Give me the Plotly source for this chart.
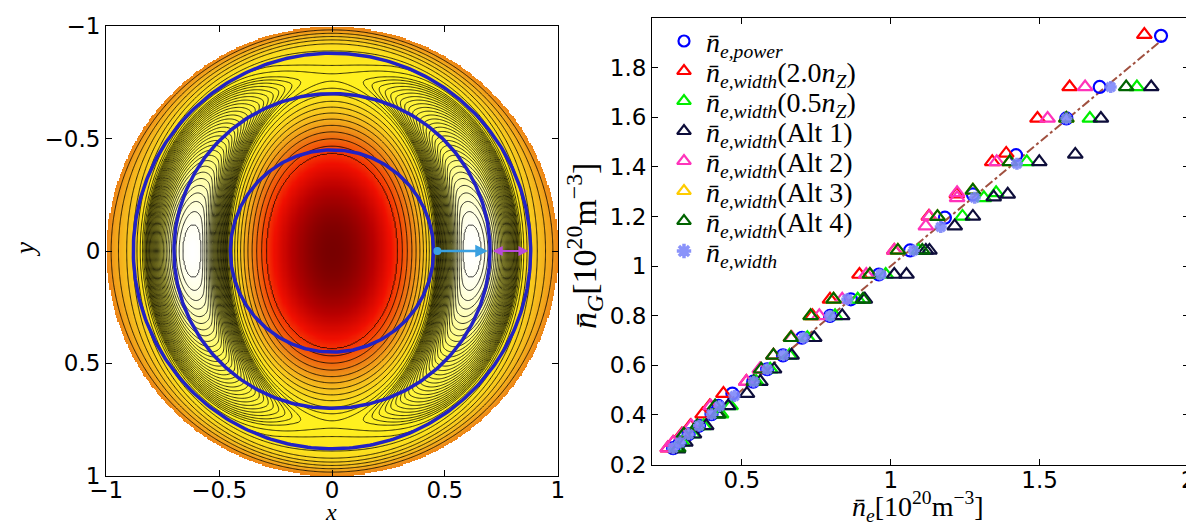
import numpy as np
import plotly.graph_objects as go

# ---------------- right panel data ----------------
power_x = [1.908, 1.702, 1.590, 1.421, 1.276, 1.182, 1.065, 0.960, 0.866, 0.796, 0.702, 0.638, 0.585, 0.538, 0.468, 0.421, 0.398, 0.356, 0.321, 0.292, 0.269]
power_y = [1.928, 1.722, 1.595, 1.447, 1.289, 1.195, 1.063, 0.966, 0.866, 0.799, 0.711, 0.640, 0.584, 0.534, 0.486, 0.436, 0.403, 0.356, 0.322, 0.289, 0.266]

red_x = [1.852, 1.601, 1.493, 1.388, 1.341, 1.222, 1.128, 1.012, 0.895, 0.796, 0.737, 0.665, 0.606, 0.562, 0.515, 0.438, 0.392, 0.368, 0.327, 0.298, 0.269, 0.251]
red_y = [1.933, 1.722, 1.595, 1.454, 1.420, 1.290, 1.200, 1.063, 0.966, 0.866, 0.799, 0.711, 0.640, 0.584, 0.534, 0.486, 0.436, 0.403, 0.356, 0.322, 0.289, 0.266]

green_x = [1.827, 1.669, 1.457, 1.313, 1.354, 1.241, 1.094, 0.983, 0.889, 0.813, 0.720, 0.660, 0.595, 0.548, 0.462, 0.430, 0.372, 0.335, 0.300, 0.278]
green_y = [1.722, 1.595, 1.420, 1.275, 1.295, 1.200, 1.063, 0.966, 0.866, 0.799, 0.711, 0.640, 0.584, 0.534, 0.436, 0.403, 0.356, 0.322, 0.289, 0.266]

alt1_x = [1.875, 1.706, 1.620, 1.499, 1.346, 1.393, 1.276, 1.215, 1.118, 1.130, 1.012, 1.053, 0.913, 0.837, 0.743, 0.667, 0.608, 0.562, 0.517, 0.454, 0.418, 0.380, 0.339, 0.310, 0.285]
alt1_y = [1.722, 1.595, 1.450, 1.420, 1.278, 1.289, 1.200, 1.161, 1.063, 1.063, 0.966, 0.966, 0.866, 0.799, 0.711, 0.640, 0.584, 0.534, 0.486, 0.436, 0.403, 0.356, 0.322, 0.289, 0.262]

alt2_x = [1.653, 1.527, 1.356, 1.223, 1.223, 1.130, 1.118, 1.012, 0.918, 0.837, 0.760, 0.668, 0.560, 0.515, 0.395, 0.330, 0.300, 0.269, 0.251]
alt2_y = [1.722, 1.595, 1.420, 1.295, 1.275, 1.200, 1.161, 1.063, 0.966, 0.866, 0.799, 0.711, 0.584, 0.534, 0.436, 0.356, 0.322, 0.289, 0.266]

alt3_x = [1.590, 1.400, 1.276, 1.157, 1.024, 0.930, 0.808, 0.731, 0.665]
alt3_y = [1.595, 1.420, 1.305, 1.199, 1.063, 0.966, 0.866, 0.799, 0.711]

alt4_x = [1.791, 1.590, 1.400, 1.276, 1.157, 1.024, 1.106, 0.930, 0.808, 0.907, 0.731, 0.665, 0.606, 0.565, 0.540, 0.410, 0.421, 0.350, 0.305, 0.286]
alt4_y = [1.722, 1.595, 1.420, 1.305, 1.199, 1.063, 1.063, 0.966, 0.866, 0.866, 0.799, 0.711, 0.640, 0.584, 0.534, 0.436, 0.403, 0.356, 0.322, 0.266]

width_x = [1.739, 1.590, 1.424, 1.282, 1.168, 1.077, 0.966, 0.854, 0.796, 0.708, 0.640, 0.585, 0.540, 0.475, 0.425, 0.398, 0.356, 0.321, 0.292, 0.269]
width_y = [1.722, 1.595, 1.412, 1.275, 1.157, 1.063, 0.966, 0.866, 0.799, 0.711, 0.640, 0.584, 0.534, 0.476, 0.436, 0.403, 0.356, 0.322, 0.289, 0.266]

ref_line_x = [0.25, 1.91]
ref_line_y = [0.25, 1.91]

x_ticks_right = [0.5, 1, 1.5, 2]
y_ticks_right = [0.2, 0.4, 0.6, 0.8, 1.0, 1.2, 1.4, 1.6, 1.8]

legend_labels = ['e,power', 'e,width(2.0n_Z)', 'e,width(0.5n_Z)', 'e,width(Alt 1)',
                 'e,width(Alt 2)', 'e,width(Alt 3)', 'e,width(Alt 4)', 'e,width']

# ---------------- left panel model parameters ----------------
circle_radii = [0.45, 0.70, 0.88]
cyan_arrow = [0.46, 0.69]
magenta_arrow = [0.705, 0.87]
left_ticks = [-1, -0.5, 0, 0.5, 1]
EPS, LAM, MU, AX2, AY2, R1 = 0.35, 2.0, 0.5, 0.3533, 0.6274, 0.84
ETA, SIG = 1.1, 0.35
line_levels = [-1.10, -0.97, -0.85, -0.74, -0.64, -0.55, -0.47, -0.40, -0.34, -0.285, -0.245, -0.222] + \
    list(np.linspace(-0.200, 0.140, 30))

n = 401
g = np.linspace(-1, 1, n)
X, Y = np.meshgrid(g, g)
R2 = X**2 + Y**2
R = np.sqrt(R2)
t = np.clip((R - R1) / (1 - R1), 0, 1)
k = 1 - (3 * t**2 - 2 * t**3)
A0 = 0.5 * (1 / AX2 + 1 / AY2)
A1 = 0.5 * (1 / AX2 - 1 / AY2)
q = A0 * R2 + A1 * k * (X**2 - Y**2) - 1
psi = np.where(q < 0, -LAM * q**2, -MU * q**2) + EPS * k * (X**2 - Y**2) \
    + ETA * (X**2 - Y**2) * np.exp(-R2 / SIG**2)
psi[R > 1.0] = np.nan
lv = np.array(line_levels)
Zl = np.interp(psi, lv, np.arange(len(lv)), left=-1, right=len(lv))
Zl[np.isnan(psi)] = np.nan

PMIN, PMAX = -2.0, float(np.nanmax(psi))
def tt(p):
    return (p - PMIN) / (PMAX - PMIN)
cscale = [
    [0.0, 'rgb(120,0,0)'],
    [tt(-1.60), 'rgb(185,0,0)'],
    [tt(-1.25), 'rgb(240,15,0)'],
    [tt(-1.00), 'rgb(245,70,5)'],
    [tt(-0.74), 'rgb(236,128,22)'],
    [tt(-0.48), 'rgb(246,190,30)'],
    [tt(-0.215), 'rgb(255,240,30)'],
    [tt(0.02), 'rgb(255,250,90)'],
    [tt(0.10), 'rgb(255,255,190)'],
    [1.0, 'rgb(255,255,255)'],
]

W, H = 1194, 524

fig = go.Figure()
fig.add_trace(go.Heatmap(x=g, y=g, z=psi.astype(np.float32), colorscale=cscale, zmin=PMIN, zmax=PMAX,
                         zsmooth='best', showscale=False, hoverinfo='skip', xaxis='x', yaxis='y'))
fig.add_trace(go.Contour(x=g, y=g, z=Zl.astype(np.float32), contours=dict(coloring='none', start=0, end=len(lv) - 1, size=1),
                         line=dict(color='black', width=0.8), showscale=False, hoverinfo='skip',
                         xaxis='x', yaxis='y', showlegend=False))
th = np.linspace(0, 2 * np.pi, 361)
for rr in circle_radii:
    fig.add_trace(go.Scatter(x=rr * np.cos(th), y=rr * np.sin(th), mode='lines',
                             line=dict(color='#2222c4', width=3.5), showlegend=False,
                             hoverinfo='skip', xaxis='x', yaxis='y'))

# ---------------- right panel traces ----------------
fig.add_trace(go.Scatter(x=ref_line_x, y=ref_line_y, mode='lines',
                         line=dict(color='#a0503f', width=2, dash='dashdot'),
                         showlegend=False, xaxis='x2', yaxis='y2'))

series = [
    (power_x, power_y, 'circle-open', '#0000ff', 12),
    (red_x, red_y, 'triangle-up-open', '#ff0000', 13),
    (green_x, green_y, 'triangle-up-open', '#00ee00', 13),
    (alt1_x, alt1_y, 'triangle-up-open', '#0d0d3a', 13),
    (alt2_x, alt2_y, 'triangle-up-open', '#ff33bb', 13),
    (alt3_x, alt3_y, 'triangle-up-open', '#ffcc00', 13),
    (alt4_x, alt4_y, 'triangle-up-open', '#006400', 13),
]
star_col = 'rgba(125,135,250,0.9)'
for xs, ys, sym, col, sz in series:
    fig.add_trace(go.Scatter(x=xs, y=ys, mode='markers', showlegend=False,
                             marker=dict(symbol=sym, size=sz, color=col, line=dict(width=2.2, color=col)),
                             xaxis='x2', yaxis='y2'))
fig.add_trace(go.Scatter(x=width_x, y=width_y, mode='markers', showlegend=False,
                         marker=dict(symbol='asterisk-open', size=10, color=star_col,
                                     line=dict(width=3.5, color=star_col)),
                         xaxis='x2', yaxis='y2'))

# ---------------- hand-made legend (pixel overlay axes) ----------------
leg_y = [33 + 30.0 * i for i in range(len(legend_labels))]
leg_syms = [s[2] for s in series] + ['asterisk-open']
leg_cols = [s[3] for s in series] + [star_col]
for i in range(len(legend_labels)):
    fig.add_trace(go.Scatter(x=[676], y=[leg_y[i]], mode='markers', showlegend=False, hoverinfo='skip',
                             marker=dict(symbol=leg_syms[i], size=12 if i else 11, color=leg_cols[i],
                                         line=dict(width=2.2 if i < 7 else 3.5, color=leg_cols[i])),
                             xaxis='x3', yaxis='y3', cliponaxis=False))

def fmt_label(lbl):
    main, _, rest = lbl.partition('(')
    s = '<i>n̄</i><sub><i>' + main + '</i></sub>'
    if rest:
        rest = rest.rstrip(')')
        if rest.endswith('n_Z'):
            s += '(' + rest[:-3] + '<i>n</i><sub><i>Z</i></sub>)'
        else:
            s += '(' + rest + ')'
    return s

legfont = dict(family='Liberation Serif, serif', size=28, color='black')
for i, lbl in enumerate(legend_labels):
    fig.add_annotation(x=696, y=leg_y[i] + 3, xref='x3', yref='y3', text=fmt_label(lbl), showarrow=False,
                       xanchor='left', yanchor='middle', font=legfont)


def dx(a, b):
    return [a / W, b / W]
def dy(top, bot):
    return [1 - bot / H, 1 - top / H]

tickfont = dict(family='DejaVu Sans, sans-serif', size=23, color='black')
axcommon = dict(showline=True, linecolor='black', linewidth=1, mirror='allticks', ticks='inside',
                ticklen=6, tickcolor='black', showgrid=False, zeroline=False, tickfont=tickfont,
                automargin=False)

fig.update_layout(
    width=W, height=H, margin=dict(l=0, r=0, t=0, b=0, autoexpand=False),
    paper_bgcolor='white', plot_bgcolor='rgba(0,0,0,0)',
    xaxis=dict(domain=dx(98, 550), range=[-1.001, 1.001], tickvals=left_ticks,
               ticktext=['−1', '−0.5', '0', '0.5', '1'], anchor='y', ticklabelstandoff=-7, **axcommon),
    yaxis=dict(domain=dy(18, 468), range=[1.001, -1.001], tickvals=left_ticks,
               ticktext=['−1', '−0.5', '0', '0.5', '1'], anchor='x', **axcommon),
    xaxis2=dict(domain=dx(644, 1181), range=[0.198, 2.002], tickvals=x_ticks_right,
                ticktext=['0.5', '1', '1.5', '2'], anchor='y2', ticklabelstandoff=-6, **axcommon),
    yaxis2=dict(domain=dy(10, 457), range=[0.198, 2.0], tickvals=y_ticks_right,
                ticktext=['0.2', '0.4', '0.6', '0.8', '1', '1.2', '1.4', '1.6', '1.8'], anchor='x2', **axcommon),
    xaxis3=dict(domain=[0, 1], range=[0, W], visible=False, anchor='y3', automargin=False),
    yaxis3=dict(domain=[0, 1], range=[H, 0], visible=False, anchor='x3', automargin=False),
    showlegend=False,
)

fig.add_annotation(x=323, y=504, xref='x3', yref='y3', text='<i>x</i>', showarrow=False,
                   font=dict(family='Liberation Serif, serif', size=24, color='black'))
fig.add_annotation(x=17, y=242, xref='x3', yref='y3', text='<i>y</i>', showarrow=False,
                   font=dict(family='Liberation Serif, serif', size=27, color='black'), textangle=-90)
fig.add_annotation(x=910, y=498, xref='x3', yref='y3',
                   text='<i>n̄</i><sub><i>e</i></sub>[10<sup>20</sup>m<sup>−3</sup>]',
                   showarrow=False, font=dict(family='Liberation Serif, serif', size=28, color='black'))
fig.add_annotation(x=576, y=238, xref='x3', yref='y3',
                   text='<i>n̄</i><sub><i>G</i></sub>[10<sup>20</sup>m<sup>−3</sup>]',
                   showarrow=False, font=dict(family='Liberation Serif, serif', size=34, color='black'),
                   textangle=-90)

fig.add_annotation(x=cyan_arrow[1], y=0, ax=cyan_arrow[0], ay=0, xref='x', yref='y', axref='x', ayref='y',
                   text='', showarrow=True, arrowhead=2, arrowsize=1, arrowwidth=2.5, arrowcolor='#3aa0e0',
                   arrowside='end+start', startarrowhead=6, startarrowsize=0.8)
fig.add_annotation(x=magenta_arrow[1], y=0, ax=magenta_arrow[0], ay=0, xref='x', yref='y', axref='x', ayref='y',
                   text='', showarrow=True, arrowhead=2, arrowsize=1, arrowwidth=2, arrowcolor='#b84ad8',
                   arrowside='end+start', startarrowhead=2)

fig.write_html('out.html')
